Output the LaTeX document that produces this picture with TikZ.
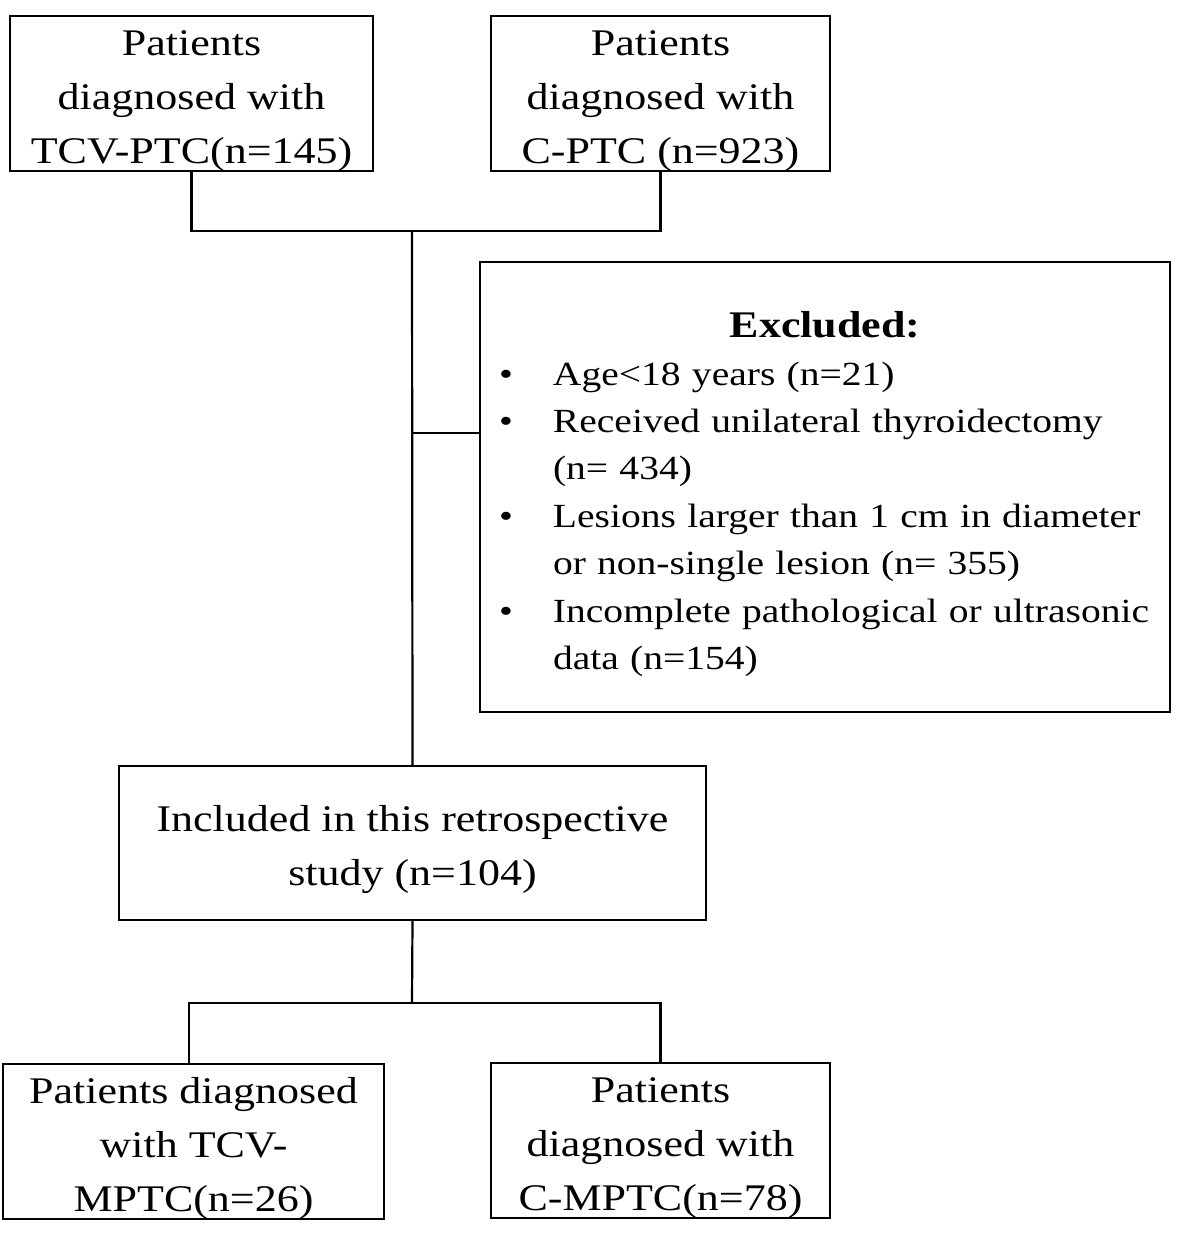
\documentclass[tikz,border=0pt]{standalone}
\usepackage{fontspec}
\setmainfont{Liberation Serif}[FakeStretch=1.17]
\usetikzlibrary{positioning}

\tikzset{
    flowbox/.style={draw, line width=1.1pt, inner sep=0pt, align=center,
        font=\fontsize{18.8}{27}\selectfont},
    link/.style={line width=1.1pt},
}
\newcommand\drop{\rule{0pt}{19.8pt}}
\newcommand\exitem[1]{\makebox[36.5pt][l]{\hspace*{9.5pt}\textbullet}#1}
\newcommand\excont[1]{\hspace*{36.5pt}#1}

\begin{document}
\begin{tikzpicture}[x=0.5pt, y=-0.5pt]
    \useasboundingbox (0,0) rectangle (1181,1249);

    % the two source groups
    \node[flowbox, minimum width=181.5pt, minimum height=77.5pt] (tcv) at (191.5,93.5)
        {\drop Patients\\diagnosed with\\TCV-PTC(n=145)};
    \node[flowbox, minimum width=169.5pt, minimum height=77.5pt] (cptc) at (660.5,93.5)
        {\drop Patients\\diagnosed with\\C-PTC (n=923)};

    % exclusion box
    \node[draw, line width=1.1pt, inner sep=0pt, align=left, text width=345pt,
          minimum height=225pt, font=\fontsize{16.9}{23.7}\selectfont] (excl) at (825,487)
        {\makebox[345pt]{\fontsize{18.8}{23.7}\selectfont\bfseries\drop Excluded:}\\[0.3pt]
         \exitem{Age<18 years (n=21)}\\
         \exitem{Received unilateral thyroidectomy}\\
         \excont{(n= 434)}\\
         \exitem{Lesions larger than 1 cm in diameter}\\
         \excont{or non-single lesion (n= 355)}\\
         \exitem{Incomplete pathological or ultrasonic}\\
         \excont{data (n=154)}};

    \node[flowbox, minimum width=293.5pt, minimum height=77pt] (incl) at (412.5,843)
        {\drop Included in this retrospective\\study (n=104)};

    % the two final groups
    \node[flowbox, minimum width=190.5pt, minimum height=77pt] (tcvm) at (193.5,1141.5)
        {\drop Patients diagnosed\\with TCV-\\MPTC(n=26)};
    \node[flowbox, minimum width=169.5pt, minimum height=77.5pt] (cmptc) at (660.5,1140.5)
        {\drop Patients\\diagnosed with\\C-MPTC(n=78)};

    \coordinate (jtop) at (412,231);
    \coordinate (jmid) at (412,433);
    \coordinate (jlow) at (412,1003);
    \coordinate (jleft) at (189,1003);

    \draw[link] (tcv.south) |- (jtop) -| (cptc.south);
    \draw[link] (jtop) -- (incl.north);
    \draw[link] (jmid) -- (excl.west |- jmid);
    \draw[link] (incl.south) -- (jlow);
    \draw[link] (jleft |- tcvm.north) -- (jleft) -| (cmptc.north);
\end{tikzpicture}
\end{document}
